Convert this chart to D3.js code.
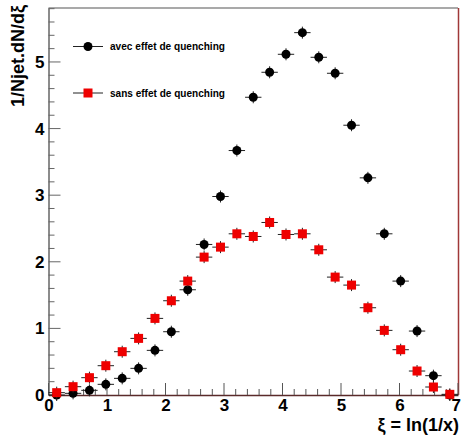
<!DOCTYPE html>
<html><head><meta charset="utf-8">
<script src="https://cdn.jsdelivr.net/npm/d3@7"></script>
<style>body{margin:0;background:#fff;} svg{display:block;}</style>
</head><body>
<svg id="c" width="461" height="439"></svg>
<script>
const binCenters = [0.14,0.42,0.70,0.98,1.26,1.54,1.82,2.10,2.38,2.66,2.94,3.22,3.50,3.78,4.06,4.34,4.62,4.90,5.18,5.46,5.74,6.02,6.30,6.58,6.86];
const avecValues = [0.00,0.025,0.07,0.16,0.25,0.40,0.67,0.95,1.58,2.26,2.98,3.67,4.47,4.845,5.115,5.44,5.07,4.83,4.05,3.26,2.42,1.71,0.96,0.29,0.0];
const sansValues = [0.035,0.125,0.26,0.44,0.65,0.85,1.15,1.415,1.71,2.07,2.22,2.42,2.38,2.59,2.41,2.42,2.18,1.77,1.65,1.31,0.97,0.68,0.36,0.12,0.01];
const halfWidth = 0.14;
const xTicks = [0,1,2,3,4,5,6,7];
const yTicks = [0,1,2,3,4,5];
const legendLabels = ["avec effet de quenching","sans effet de quenching"];

const svg = d3.select("#c");
const x = d3.scaleLinear().domain([0,7]).range([48.5,458]);
const y = d3.scaleLinear().domain([0,5.81]).range([395,8]);

// frame
svg.append("line").attr("x1",48.5).attr("x2",458).attr("y1",8).attr("y2",8).attr("stroke","#555").attr("stroke-width",1.2);
svg.append("line").attr("x1",458.5).attr("x2",458.5).attr("y1",8).attr("y2",395).attr("stroke","#a03838").attr("stroke-width",1.5);

// y axis
const yAxis = d3.axisLeft(y).tickValues(yTicks).tickFormat(d3.format("d")).tickSize(0).tickPadding(4);
const gy = svg.append("g").attr("transform","translate(48.5,0)").call(yAxis);
gy.select(".domain").attr("stroke","#666").attr("stroke-width",1.5);
gy.selectAll("text").attr("font-family","Liberation Sans, Arial, sans-serif").attr("font-weight","bold").attr("font-size",17).attr("fill","#000");
const yMinor = d3.range(0,5.81,0.2);
gy.selectAll(".mt").data(yMinor).enter().append("line")
  .attr("x1",0).attr("x2",d=> Math.abs(d-Math.round(d))<1e-6 ? 12 : 6)
  .attr("y1",d=>y(d)).attr("y2",d=>y(d)).attr("stroke","#666").attr("stroke-width",1);

// x axis
const xAxis = d3.axisBottom(x).tickValues(xTicks).tickFormat(d3.format("d")).tickSize(0).tickPadding(4);
const gx = svg.append("g").attr("transform","translate(0,395)").call(xAxis);
gx.select(".domain").attr("stroke","#5a2a2a").attr("stroke-width",1.5);
gx.selectAll("text").attr("font-family","Liberation Sans, Arial, sans-serif").attr("font-weight","bold").attr("font-size",17).attr("fill","#000");
gx.selectAll(".tick").filter(d=>d===7).select("text").attr("text-anchor","end").attr("dx","2.5");
const xMinor = d3.range(0,7.001,0.2);
gx.selectAll(".mt").data(xMinor).enter().append("line")
  .attr("x1",d=>x(d)).attr("x2",d=>x(d)).attr("y1",0).attr("y2",d=> Math.abs(d-Math.round(d))<1e-6 ? -12 : -6)
  .attr("stroke","#555").attr("stroke-width",1);

// titles
svg.append("text").attr("transform","translate(24,5) rotate(-90)").attr("text-anchor","end")
  .attr("font-family","Liberation Sans, Arial, sans-serif").attr("font-weight","bold").attr("font-size",18).text("1/Njet.dN/dξ");
svg.append("text").attr("x",459).attr("y",431).attr("text-anchor","end")
  .attr("font-family","Liberation Sans, Arial, sans-serif").attr("font-weight","bold").attr("font-size",18).text("ξ = ln(1/x)");

function drawSeries(vals, color, shape) {
  const g = svg.append("g");
  const pts = binCenters.map((c,i)=>({c, v: vals[i]}));
  g.selectAll(".h").data(pts).enter().append("line")
    .attr("x1",d=>x(d.c-halfWidth)).attr("x2",d=>x(d.c+halfWidth))
    .attr("y1",d=>y(d.v)).attr("y2",d=>y(d.v)).attr("stroke","#222").attr("stroke-width",1);
  g.selectAll(".v").data(pts).enter().append("line")
    .attr("x1",d=>x(d.c)).attr("x2",d=>x(d.c))
    .attr("y1",d=>y(d.v)-6).attr("y2",d=>y(d.v)+6).attr("stroke","#222").attr("stroke-width",1);
  if (shape==="circle") {
    g.selectAll(".m").data(pts).enter().append("circle")
      .attr("cx",d=>x(d.c)).attr("cy",d=>y(d.v)).attr("r",4.5).attr("fill",color);
  } else {
    g.selectAll(".m").data(pts).enter().append("rect")
      .attr("x",d=>x(d.c)-4.5).attr("y",d=>y(d.v)-4.5).attr("width",9).attr("height",9).attr("fill",color);
  }
}
drawSeries(avecValues,"#000","circle");
drawSeries(sansValues,"#ee0000","rect");

// legend
const leg = [{label:legendLabels[0],color:"#000",shape:"circle",y:46.5},{label:legendLabels[1],color:"#ee0000",shape:"rect",y:93}];
leg.forEach(l=>{
  svg.append("line").attr("x1",73).attr("x2",103).attr("y1",l.y).attr("y2",l.y).attr("stroke","#222").attr("stroke-width",1);
  if (l.shape==="circle") svg.append("circle").attr("cx",88).attr("cy",l.y).attr("r",4.5).attr("fill",l.color);
  else svg.append("rect").attr("x",83.5).attr("y",l.y-4.5).attr("width",9).attr("height",9).attr("fill",l.color);
  svg.append("text").attr("x",110).attr("y",l.y+3.5).attr("font-family","Liberation Sans, Arial, sans-serif")
    .attr("font-weight","bold").attr("font-size",10).attr("textLength",115).attr("lengthAdjust","spacingAndGlyphs").text(l.label);
});
</script>
</body></html>
